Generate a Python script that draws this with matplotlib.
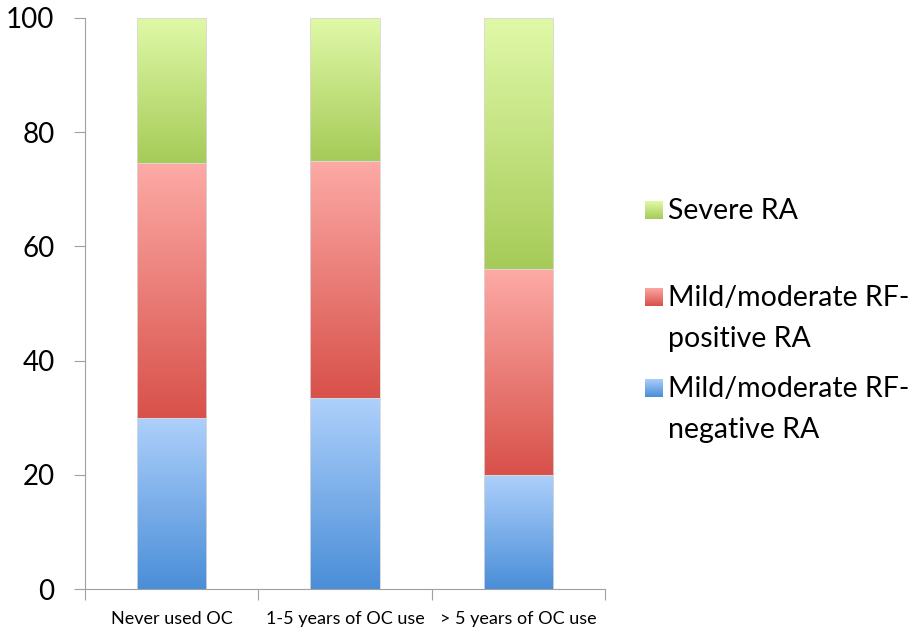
import numpy as np
import matplotlib.pyplot as plt
from matplotlib.colors import LinearSegmentedColormap

plt.rcParams['font.family'] = ['Lato', 'DejaVu Sans']

# --- Data ---
categories = ["Never used OC", "1-5 years of OC use", "> 5 years of OC use"]
rf_negative = [30.0, 33.4, 20.0]
rf_positive = [44.6, 41.6, 36.0]
severe = [25.4, 25.0, 44.0]
series_labels = ["Mild/moderate RF-\nnegative RA", "Mild/moderate RF-\npositive RA", "Severe RA"]

# gradient colours (top, bottom) for each series
grads = [("#aed0fb", "#4a8ed8"), ("#fdaaa6", "#d8514a"), ("#e0f9a8", "#a6cb58")]

W, H = 920, 630
fig = plt.figure(figsize=(W / 100, H / 100), dpi=100)
ax = fig.add_axes([85 / W, 41 / H, 520 / W, 571 / H])

x = np.arange(len(categories))
bottom = np.zeros(len(categories))
for vals, (top_c, bot_c) in zip([rf_negative, rf_positive, severe], grads):
    cmap = LinearSegmentedColormap.from_list("g", [bot_c, top_c])
    bars = ax.bar(x, vals, width=0.4, bottom=bottom, facecolor="none",
                  edgecolor="#d8d8d8", linewidth=0.6, zorder=3)
    for b in bars:
        x0, y0 = b.get_x(), b.get_y()
        x1, y1 = x0 + b.get_width(), y0 + b.get_height()
        grad = np.linspace(1, 0, 256).reshape(-1, 1)
        im = ax.imshow(grad, cmap=cmap, extent=(x0, x1, y0, y1), aspect="auto",
                       origin="upper", zorder=2, interpolation="bilinear")
        im.set_clip_path(b)
    bottom += np.array(vals)

ax.set_xlim(-0.5, 2.5)
ax.set_ylim(0, 100)
ax.set_yticks([0, 20, 40, 60, 80, 100])
ax.set_xticks([-0.5, 0.5, 1.5, 2.5])
ax.set_xticklabels([])
ax.set_xticks(x, minor=True)
ax.set_xticklabels(categories, minor=True, fontsize=13)
ax.tick_params(axis="x", which="minor", length=0, pad=16)
ax.tick_params(axis="x", which="major", length=8, color="#a0a0a0", direction="out")
ax.tick_params(axis="y", labelsize=20, length=8, color="#a0a0a0", pad=14)
for s in ["top", "right"]:
    ax.spines[s].set_visible(False)
for s in ["left", "bottom"]:
    ax.spines[s].set_color("#a0a0a0")

# legend drawn by hand so the swatch sits on the first line of each label
legend_y = [388, 297, 210]  # first-line centre, pixels from top
for label, (top_c, bot_c), ly in zip(series_labels, grads, legend_y):
    cmap = LinearSegmentedColormap.from_list("g", [bot_c, top_c])
    sw = fig.add_axes([645 / W, (H - ly - 9) / H, 18 / W, 18 / H])
    sw.imshow(np.linspace(1, 0, 64).reshape(-1, 1), cmap=cmap, aspect="auto")
    sw.axis("off")
    fig.text(668 / W, (H - ly + 12) / H, label, fontsize=20.5, va="top",
             ha="left", linespacing=1.72)

fig.savefig("out.png", dpi=100)
